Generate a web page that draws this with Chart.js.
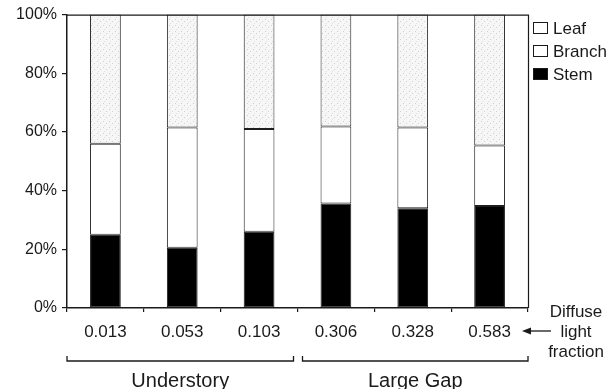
<!DOCTYPE html>
<html>
<head>
<meta charset="utf-8">
<script src="https://cdn.jsdelivr.net/npm/chart.js@4/dist/chart.umd.min.js"></script>
<style>
  html, body { margin: 0; padding: 0; background: #fff; }
  #wrap { width: 614px; height: 389px; }
</style>
</head>
<body>
<div id="wrap"><canvas id="grafico" width="614" height="389"></canvas></div>
<script>
// datos (porcentaje de cada parte)
const categorias = ['0.013', '0.053', '0.103', '0.306', '0.328', '0.583'];
const stem   = [25, 20.5, 26, 35.6, 34, 34.8];
const branch = [31, 41, 35, 26.3, 27.5, 20.6];
const leaf   = [44, 38.5, 39, 38.1, 38.5, 44.6];
const yTicks = [0, 20, 40, 60, 80, 100];
const grupos = ['Understory', 'Large Gap'];
const grupoDesde = [0, 3];
const grupoHasta = [2, 5];
const notaEje = ['Diffuse', 'light', 'fraction'];

const FONT = '"Liberation Sans", Arial, Helvetica, sans-serif';
const INK = '#1a1a1a';

// trama punteada para las hojas
function trama() {
  const c = document.createElement('canvas');
  c.width = 6; c.height = 6;
  const g = c.getContext('2d');
  g.fillStyle = '#f6f6f6';
  g.fillRect(0, 0, 6, 6);
  g.fillStyle = '#d0d0d0';
  g.fillRect(1, 1, 1, 1);
  g.fillRect(4, 3, 1, 1);
  g.fillStyle = '#e0e0e0';
  g.fillRect(2, 5, 1, 1);
  return g.createPattern(c, 'repeat');
}
const leafFill = trama();

const extras = {
  id: 'extras',
  afterDraw(chart) {
    const ctx = chart.ctx;
    const a = chart.chartArea;
    const x = chart.scales.x;
    ctx.save();
    // marco superior y derecho
    ctx.strokeStyle = INK;
    ctx.lineWidth = 1.2;
    ctx.beginPath();
    ctx.moveTo(a.left, a.top + 0.5);
    ctx.lineTo(a.right + 0.5, a.top + 0.5);
    ctx.lineTo(a.right + 0.5, a.bottom);
    ctx.stroke();

    // leyenda (orden inverso: Leaf arriba)
    const ds = chart.data.datasets.slice().reverse();
    ctx.font = '17px ' + FONT;
    ctx.textBaseline = 'middle';
    ctx.textAlign = 'left';
    ds.forEach((d, i) => {
      const yy = 28 + i * 23;
      ctx.fillStyle = d.legendFill;
      ctx.fillRect(533.5, yy - 5.5, 14, 11);
      ctx.strokeStyle = INK;
      ctx.lineWidth = 1;
      ctx.strokeRect(533.5, yy - 5.5, 14, 11);
      ctx.fillStyle = INK;
      ctx.fillText(d.label, 553, yy + 1);
    });

    // llaves de grupo
    const half = (x.getPixelForValue(1) - x.getPixelForValue(0)) / 2;
    const yb = 361;
    ctx.lineWidth = 1.3;
    grupos.forEach((nombre, i) => {
      let x0 = x.getPixelForValue(grupoDesde[i]) - half;
      let x1 = x.getPixelForValue(grupoHasta[i]) + half;
      if (x0 > a.left + 1) x0 += 5;
      if (x1 < a.right - 1) x1 -= 4;
      ctx.beginPath();
      ctx.moveTo(x0, yb - 5);
      ctx.lineTo(x0, yb);
      ctx.lineTo(x1, yb);
      ctx.lineTo(x1, yb - 5);
      ctx.stroke();
      ctx.font = '20px ' + FONT;
      ctx.textAlign = 'center';
      ctx.fillStyle = INK;
      ctx.fillText(nombre, (x0 + x1) / 2, 381);
    });

    // flecha y nota del eje
    ctx.beginPath();
    ctx.moveTo(551, 331);
    ctx.lineTo(528, 331);
    ctx.stroke();
    ctx.beginPath();
    ctx.moveTo(522, 331);
    ctx.lineTo(531, 327.5);
    ctx.lineTo(531, 334.5);
    ctx.closePath();
    ctx.fill();
    ctx.font = '17px ' + FONT;
    ctx.textAlign = 'center';
    notaEje.forEach((t, i) => ctx.fillText(t, 576, 312 + i * 20));
    ctx.restore();
  }
};

const config = {
  type: 'bar',
  data: {
    labels: categorias,
    datasets: [
      { label: 'Stem', data: stem, backgroundColor: '#000', legendFill: '#000' },
      { label: 'Branch', data: branch, backgroundColor: '#fff', legendFill: '#fff' },
      { label: 'Leaf', data: leaf, backgroundColor: leafFill, legendFill: '#fff' }
    ]
  },
  options: {
    responsive: false,
    animation: false,
    layout: { padding: { left: 0, top: 14, right: 86, bottom: 0 } },
    datasets: {
      bar: {
        borderColor: '#1e1e1e',
        borderWidth: 1,
        borderSkipped: false,
        categoryPercentage: 1,
        barPercentage: 0.4
      }
    },
    plugins: {
      legend: { display: false },
      tooltip: { enabled: false }
    },
    scales: {
      x: {
        stacked: true,
        afterFit: s => { s.height = 81; },
        grid: { drawOnChartArea: false, tickLength: 4, color: INK, lineWidth: 1.2 },
        border: { display: true, color: INK, width: 1.5 },
        ticks: { color: INK, font: { family: FONT, size: 17 }, padding: 10, maxRotation: 0 }
      },
      y: {
        stacked: true,
        min: 0,
        max: 100,
        afterFit: s => { s.width = 67; },
        afterBuildTicks: s => { s.ticks = yTicks.map(v => ({ value: v })); },
        grid: { drawOnChartArea: false, tickLength: 5, color: INK, lineWidth: 1.2 },
        border: { display: true, color: INK, width: 1.5 },
        ticks: {
          color: INK,
          font: { family: FONT, size: 16 },
          padding: 5,
          callback: v => v + '%'
        }
      }
    }
  },
  plugins: [extras]
};

const grafico = new Chart(document.getElementById('grafico').getContext('2d'), config);
</script>
</body>
</html>
